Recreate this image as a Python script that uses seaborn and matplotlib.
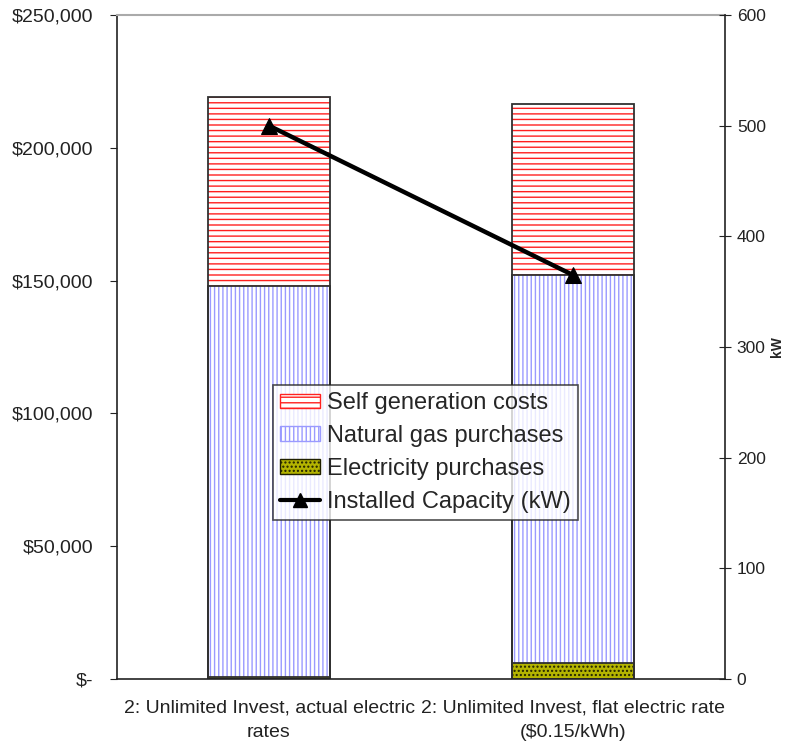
import matplotlib
matplotlib.use("Agg")
import matplotlib.pyplot as plt
import matplotlib.ticker as mticker
from matplotlib.patches import Patch
from matplotlib.lines import Line2D
import numpy as np
import pandas as pd
import seaborn as sns

categories = ["2: Unlimited Invest, actual electric\nrates",
              "2: Unlimited Invest, flat electric rate\n($0.15/kWh)"]
electricity = [800, 6000]
natural_gas = [147200, 146100]
self_gen = [71300, 64400]
capacity_kw = [500, 365]

sns.set_style("white")
plt.rcParams["font.family"] = ["Liberation Sans", "DejaVu Sans"]
plt.rcParams["hatch.linewidth"] = 1.0

df = pd.DataFrame({"cat": categories,
                   "elec": electricity,
                   "gas": natural_gas,
                   "self": self_gen})
df["gas_top"] = df["elec"] + df["gas"]
df["self_top"] = df["gas_top"] + df["self"]

fig = plt.figure(figsize=(7.86, 7.47), dpi=100)
ax = fig.add_axes([117 / 786, 68 / 747, 608 / 786, 664 / 747])

# layers: (column, face, hatch colour, hatch)
layers = [("self_top", "white", "#ff2020", "---"),
          ("gas_top", "white", "#9a9aff", "||||"),
          ("elec", "#b4b400", "#202000", "....")]

for col, face, hcol, hatch in layers:
    n0 = len(ax.patches)
    sns.barplot(data=df, x="cat", y=col, ax=ax, width=0.4, color=face)
    for p in ax.patches[n0:]:
        p.set_facecolor(face)
        p.set_edgecolor(hcol)
        p.set_hatch(hatch)
        p.set_linewidth(0)
# outlines
for col, face, hcol, hatch in layers:
    n0 = len(ax.patches)
    sns.barplot(data=df, x="cat", y=col, ax=ax, width=0.4, color="white")
    for p in ax.patches[n0:]:
        p.set_facecolor("none")
        p.set_edgecolor("#303030")
        p.set_linewidth(1.3)

ax.set_xlim(-0.5, 1.5)
ax.set_ylim(0, 250000)
ax.set_yticks(np.arange(0, 250001, 50000))
ax.yaxis.set_major_formatter(mticker.FuncFormatter(
    lambda v, pos: "$-" if v == 0 else "${:,.0f}".format(v)))
ax.set_xlabel("")
ax.set_ylabel("")
ax.set_xticks([-0.5, 0.5, 1.5])
ax.set_xticklabels(["", "", ""])
ax.set_xticks(np.arange(len(categories)), minor=True)
ax.set_xticklabels(categories, minor=True, fontsize=14, color="#222222", linespacing=1.55)
ax.tick_params(axis="x", which="minor", length=0, pad=15)
ax.tick_params(axis="x", which="major", length=5, direction="out", color="#222222")
ax.tick_params(axis="y", length=5, direction="out", labelsize=14, pad=12,
               labelcolor="#222222", color="#222222", left=True)
for s in ["left", "bottom"]:
    ax.spines[s].set_color("#222222")
    ax.spines[s].set_linewidth(1.2)
ax.spines["top"].set_color("#aaaaaa")
ax.spines["top"].set_linewidth(1.5)
ax.spines["right"].set_visible(False)

ax2 = ax.twinx()
sns.lineplot(x=np.arange(len(categories)), y=capacity_kw, ax=ax2, color="black",
             linewidth=3.2, marker="^", markersize=12, markeredgecolor="black")
ax2.set_ylim(0, 600)
ax2.set_yticks(np.arange(0, 601, 100))
ax2.tick_params(axis="y", length=9, direction="inout", labelsize=12.5, pad=4,
                labelcolor="#222222", color="#222222", right=True)
ax2.set_ylabel("kW", fontsize=10, fontweight="bold")
ax2.yaxis.set_label_coords(1.074, 0.5)
for s in ["left", "top", "bottom"]:
    ax2.spines[s].set_visible(False)
ax2.spines["right"].set_color("#222222")
ax2.spines["right"].set_linewidth(1.2)

handles = [Patch(facecolor="white", edgecolor="#ff2020", hatch="---", label="Self generation costs"),
           Patch(facecolor="white", edgecolor="#9a9aff", hatch="||||", label="Natural gas purchases"),
           Patch(facecolor="#b4b400", edgecolor="#202000", hatch="....", label="Electricity purchases"),
           Line2D([0], [0], color="black", linewidth=3, marker="^", markersize=10,
                  label="Installed Capacity (kW)")]
leg = ax2.legend(handles=handles, loc="upper left", bbox_to_anchor=(273 / 786, 1 - 385 / 747),
                 bbox_transform=fig.transFigure, fontsize=17, frameon=True, fancybox=False,
                 edgecolor="#222222", borderpad=0.3, labelspacing=0.46, handlelength=1.7,
                 handleheight=0.55, handletextpad=0.3, borderaxespad=0)
leg.get_frame().set_linewidth(1.2)

fig.savefig("out.png", dpi=100)
